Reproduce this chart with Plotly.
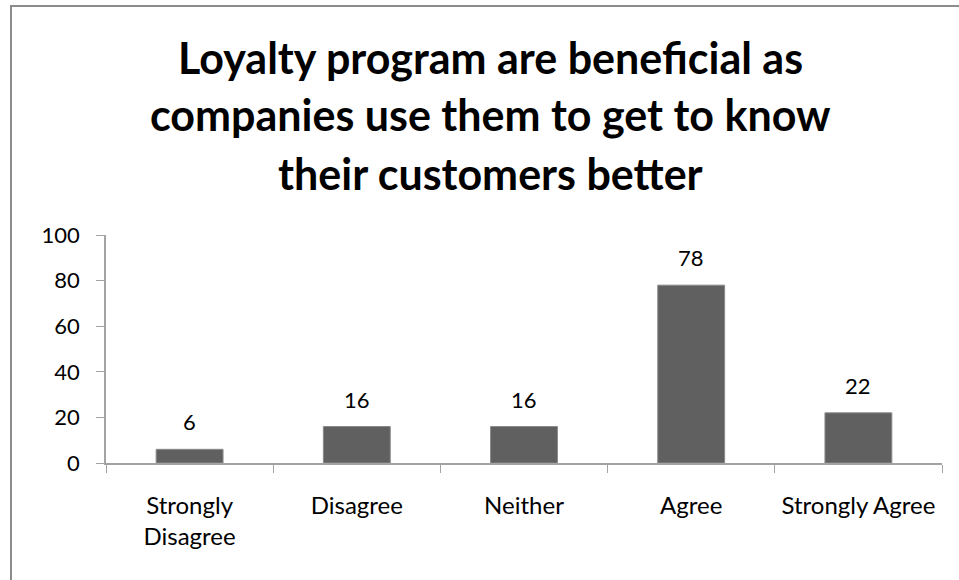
import plotly.graph_objects as go

# Survey responses
categories = ["Strongly Disagree", "Disagree", "Neither", "Agree", "Strongly Agree"]
tick_labels = ["Strongly<br>Disagree", "Disagree", "Neither", "Agree", "Strongly Agree"]
counts = [6, 16, 16, 78, 22]
title_lines = [
    "Loyalty program are beneficial as",
    "companies use them to get to know",
    "their customers better",
]

W, H = 959, 580
L, R, T, B = 106, 17, 235, 117
plot_w = W - L - R
plot_h = H - T - B

FONT = "Lato, Carlito, Calibri, sans-serif"
AXIS_GREY = "#a3a3a3"


def px_to_paper_y(y):
    return (H - B - y) / plot_h


def px_to_paper_x(x):
    return (x - L) / plot_w


fig = go.Figure()
fig.add_trace(go.Bar(
    x=categories,
    y=counts,
    marker=dict(color="#606060", line=dict(color="#8a8a8a", width=1)),
    width=0.4,
    hoverinfo="x+y",
))

# value labels above each bar
for c, v in zip(categories, counts):
    fig.add_annotation(
        x=c, y=v, text=str(v), showarrow=False,
        xref="x", yref="y", yanchor="bottom", yshift=12,
        font=dict(family=FONT, size=22, color="#000000"),
    )

# chart title, one annotation per line
title_centres = [58, 115, 173]
for line, yc in zip(title_lines, title_centres):
    fig.add_annotation(
        x=px_to_paper_x(490), y=px_to_paper_y(yc), xref="paper", yref="paper",
        text="<b>" + line + "</b>", showarrow=False,
        xanchor="center", yanchor="middle",
        font=dict(family=FONT, size=43, color="#000000"),
    )

# outer chart frame (left and top edges visible)
fig.add_shape(
    type="rect", xref="paper", yref="paper",
    x0=px_to_paper_x(11), x1=px_to_paper_x(W + 20),
    y0=px_to_paper_y(H + 20), y1=px_to_paper_y(6),
    line=dict(color="#8c8c8c", width=2), fillcolor="rgba(0,0,0,0)", layer="below",
)

fig.update_layout(
    width=W, height=H,
    margin=dict(l=L, r=R, t=T, b=B, pad=0),
    paper_bgcolor="white", plot_bgcolor="white",
    showlegend=False,
    font=dict(family=FONT, size=22, color="#000000"),
    xaxis=dict(
        type="category",
        tickmode="array", tickvals=categories, ticktext=tick_labels,
        tickson="boundaries", ticks="outside", ticklen=8, tickcolor=AXIS_GREY,
        showline=True, linecolor=AXIS_GREY, linewidth=1.5,
        showgrid=False, zeroline=False,
        tickfont=dict(family=FONT, size=24, color="#000000"),
        ticklabelstandoff=20,
    ),
    yaxis=dict(
        range=[0, 100], dtick=20, tick0=0,
        ticks="outside", ticklen=8, tickcolor=AXIS_GREY,
        showline=True, linecolor=AXIS_GREY, linewidth=1.5,
        showgrid=False, zeroline=False,
        tickfont=dict(family=FONT, size=22, color="#000000"),
        ticklabelstandoff=12,
    ),
)

fig.write_html("out.html")
